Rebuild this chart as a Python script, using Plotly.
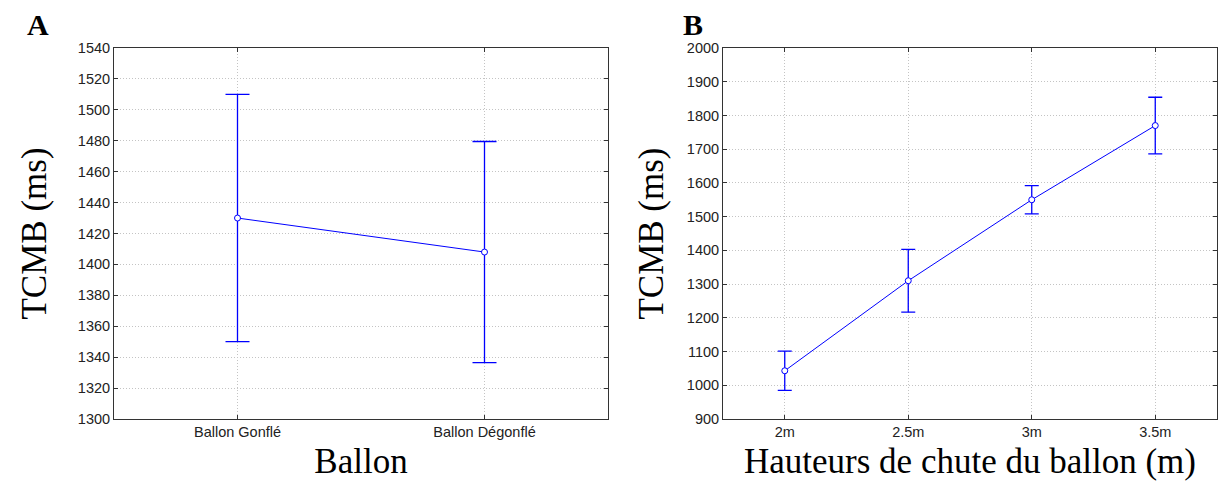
import plotly.graph_objects as go

# --- données ---
ballon_cats = ["Ballon Gonflé", "Ballon Dégonflé"]
ballon_mean = [1430, 1408]
ballon_ci = [80, 71.5]

hauteur_cats = ["2m", "2.5m", "3m", "3.5m"]
hauteur_mean = [1043, 1310, 1550, 1770]
hauteur_ci = [58, 93, 42, 84]

ticks_a = list(range(1300, 1541, 20))
ticks_b = list(range(900, 2001, 100))

W, H = 1218, 481
BLUE = "#0000ff"
TICK_FONT = dict(family="Liberation Sans, Arial, sans-serif", size=14.5, color="#222")
TITLE_FONT = dict(family="Liberation Serif, Times New Roman, serif", size=35, color="black")


def px_x(p):
    return p / W


def px_y(p):
    return 1 - p / H


fig = go.Figure()

fig.add_trace(go.Scatter(
    x=ballon_cats, y=ballon_mean, mode="lines+markers",
    line=dict(color=BLUE, width=1),
    marker=dict(symbol="circle", size=6, color="white", line=dict(color=BLUE, width=1)),
    error_y=dict(type="data", array=ballon_ci, color=BLUE, thickness=1.3, width=12),
    xaxis="x", yaxis="y", showlegend=False,
))
fig.add_trace(go.Scatter(
    x=hauteur_cats, y=hauteur_mean, mode="lines+markers",
    line=dict(color=BLUE, width=1),
    marker=dict(symbol="circle", size=6, color="white", line=dict(color=BLUE, width=1)),
    error_y=dict(type="data", array=hauteur_ci, color=BLUE, thickness=1.3, width=7),
    xaxis="x2", yaxis="y2", showlegend=False,
))

common_x = dict(
    type="category", showgrid=True, gridcolor="#c4c4c4", griddash="1px,2px", gridwidth=1,
    showline=True, linecolor="#333", linewidth=1, mirror="ticks",
    ticks="inside", ticklen=4, tickcolor="#333", tickfont=TICK_FONT,
    title_font=TITLE_FONT, title_standoff=12, zeroline=False, automargin=False,
)
common_y = dict(
    showgrid=True, gridcolor="#c4c4c4", griddash="1px,2px", gridwidth=1,
    showline=True, linecolor="#333", linewidth=1, mirror="ticks",
    ticks="inside", ticklen=4, tickcolor="#333", tickfont=TICK_FONT,
    title_font=TITLE_FONT, zeroline=False, automargin=False,
    domain=[px_y(419), px_y(48)],
)

fig.update_layout(
    width=W, height=H,
    margin=dict(l=0, r=0, t=0, b=0, autoexpand=False),
    paper_bgcolor="white", plot_bgcolor="white",
    xaxis=dict(common_x, domain=[px_x(114), px_x(608)], range=[-0.5, 1.5],
               title_text="Ballon", anchor="y"),
    yaxis=dict(common_y, range=[1300, 1540], tickvals=ticks_a,
               title_text="TCMB (ms)", title_standoff=20, anchor="x"),
    xaxis2=dict(common_x, domain=[px_x(723), px_x(1217)], range=[-0.5, 3.5],
                title_text="Hauteurs de chute du ballon (m)", anchor="y2"),
    yaxis2=dict(common_y, range=[900, 2000], tickvals=ticks_b,
                title_text="TCMB (ms)", title_standoff=12, anchor="x2"),
)

# lettres des panneaux
for letter, x in (("A", 38), ("B", 693)):
    fig.add_annotation(
        text=f"<b>{letter}</b>", x=px_x(x), y=px_y(24), xref="paper", yref="paper",
        showarrow=False, xanchor="center", yanchor="middle",
        font=dict(family="Liberation Serif, Times New Roman, serif", size=30, color="black"),
    )

# la page par défaut a une marge de 8px autour du body
fig.write_html("out.html", config={"displayModeBar": False},
               post_script="document.body.style.margin='0';")
